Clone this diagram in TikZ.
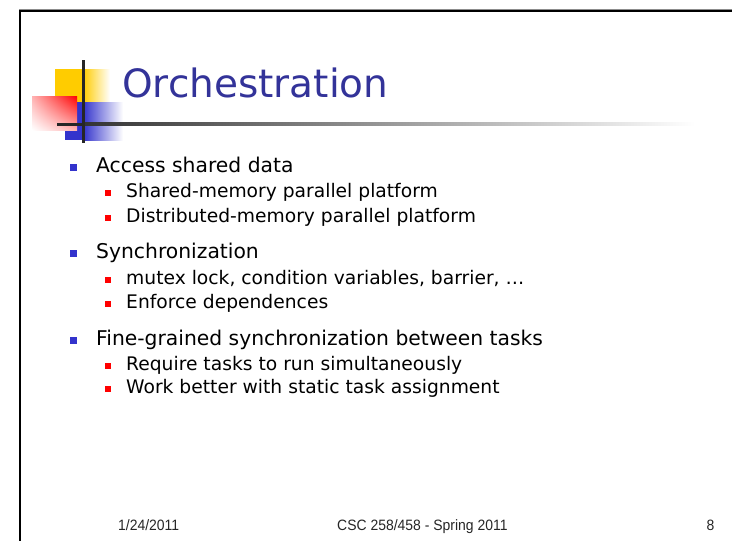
\documentclass[tikz,border=0pt]{standalone}
\usepackage{fontspec}
\usetikzlibrary{shadings}
\setmainfont{DejaVu Sans}
\newfontfamily\footfont[FakeStretch=0.93]{Liberation Sans}
\definecolor{titleblue}{HTML}{333399}
\definecolor{decoblue}{HTML}{3333CC}
\definecolor{decoyellow}{HTML}{FFCC00}
\definecolor{bulletblue}{HTML}{3333CC}
\definecolor{bulletred}{HTML}{FF0000}
\tikzset{
  lone/.style={anchor=base west, inner sep=0pt, text=black, font=\fontsize{20.3}{24}\selectfont},
  ltwo/.style={anchor=base west, inner sep=0pt, text=black, font=\fontsize{18.7}{22}\selectfont},
  foot/.style={anchor=base west, inner sep=0pt, text=black!85, font=\footfont\fontsize{15}{18}\selectfont},
}
\begin{document}
\begin{tikzpicture}[x=1pt,y=-1pt]
\useasboundingbox (0,0) rectangle (732,541);
\fill[white] (0,0) rectangle (732,541);
% frame
\draw[black!45, line width=1pt] (19,9.3) -- (732,9.3);
\draw[black, line width=2pt] (20,541) -- (20,11) -- (732,11);
% decoration
\fill[decoyellow] (55,69) rectangle (83,102);
\shade[left color=decoyellow, right color=white] (83,69) rectangle (110,102);
\fill[decoblue] (65,102) rectangle (83,140);
\shade[left color=decoblue, right color=white] (83,102) rectangle (123,140);
\shade[upper left=red!30, upper right=red, lower left=white, lower right=red!30] (32,96) rectangle (77,130);
\fill[black!85] (57,122.5) rectangle (83,125.5);
\shade[left color=black!80, middle color=black!28, right color=white] (83,122.5) rectangle (695,125.5);
\draw[black!85, line width=3pt] (83.3,60) -- (83.3,143);
% title
\node[anchor=base west, inner sep=0pt, text=titleblue, font=\fontsize{39}{46}\selectfont] (title) at (122,97) {Orchestration};
% level 1 bullets
\fill[bulletblue] (69.5,163.5) rectangle (76.5,170.5);
\node[lone] (a1) at (96,172) {Access shared data};
\fill[bulletred] (105.3,190.3) rectangle (111,196);
\node[ltwo] (a2) at (126,197) {Shared-memory parallel platform};
\fill[bulletred] (105.3,215.3) rectangle (111,221);
\node[ltwo] (a3) at (126,222) {Distributed-memory parallel platform};
\fill[bulletblue] (69.5,249.5) rectangle (76.5,256.5);
\node[lone] (b1) at (96,258) {Synchronization};
\fill[bulletred] (105.3,277.3) rectangle (111,283);
\node[ltwo] (b2) at (126,284) {mutex lock, condition variables, barrier, …};
\fill[bulletred] (105.3,301.3) rectangle (111,307);
\node[ltwo] (b3) at (126,308) {Enforce dependences};
\fill[bulletblue] (69.5,336.5) rectangle (76.5,343.5);
\node[lone] (c1) at (96,345) {Fine-grained synchronization between tasks};
\fill[bulletred] (105.3,363.3) rectangle (111,369);
\node[ltwo] (c2) at (126,370) {Require tasks to run simultaneously};
\fill[bulletred] (105.3,386.3) rectangle (111,392);
\node[ltwo] (c3) at (126,393) {Work better with static task assignment};
% footer
\node[foot] (date) at (118,530.5) {1/24/2011};
\node[foot] (course) at (337,530.5) {CSC 258/458 - Spring 2011};
\node[foot, anchor=base east] (page) at (714.5,530.5) {8};
\end{tikzpicture}
\end{document}
